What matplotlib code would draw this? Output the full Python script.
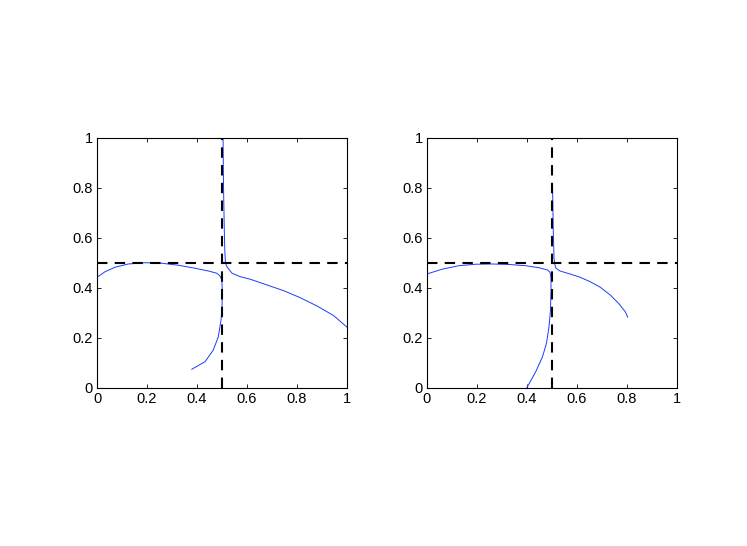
import matplotlib
matplotlib.use("Agg")
from matplotlib import pyplot as plt

plt.rcParams["font.family"] = ["Liberation Sans", "DejaVu Sans"]

# left panel, curve through the lower-left region
left_a_x = [0.0, 0.032, 0.072, 0.125, 0.192, 0.259, 0.325, 0.392, 0.445, 0.479, 0.492,
            0.499, 0.501, 0.500, 0.496, 0.485, 0.465, 0.432, 0.379]
left_a_y = [0.443, 0.465, 0.483, 0.496, 0.501, 0.499, 0.491, 0.479, 0.468, 0.459, 0.448,
            0.432, 0.392, 0.325, 0.272, 0.205, 0.152, 0.105, 0.075]
# left panel, curve through the upper-right region
left_b_x = [0.504, 0.506, 0.509, 0.511, 0.513, 0.517, 0.524, 0.54, 0.573, 0.613, 0.68,
            0.747, 0.813, 0.88, 0.947, 1.0]
left_b_y = [1.0, 0.80, 0.632, 0.55, 0.51, 0.49, 0.479, 0.459, 0.445, 0.435, 0.412,
            0.389, 0.361, 0.328, 0.289, 0.243]

# right panel
right_a_x = [0.0, 0.060, 0.127, 0.194, 0.261, 0.328, 0.395, 0.448, 0.482, 0.492, 0.496,
             0.496, 0.494, 0.488, 0.478, 0.462, 0.435, 0.399]
right_a_y = [0.456, 0.475, 0.489, 0.495, 0.496, 0.494, 0.489, 0.481, 0.472, 0.463, 0.440,
             0.392, 0.312, 0.245, 0.179, 0.125, 0.065, 0.0]
right_b_x = [0.502, 0.505, 0.507, 0.508, 0.511, 0.516, 0.532, 0.572, 0.612, 0.653,
             0.693, 0.733, 0.766, 0.793, 0.803]
right_b_y = [0.813, 0.632, 0.56, 0.52, 0.495, 0.479, 0.468, 0.456, 0.443, 0.425,
             0.403, 0.372, 0.339, 0.305, 0.283]

ticks = [0, 0.2, 0.4, 0.6, 0.8, 1]
tick_labels = ["0", "0.2", "0.4", "0.6", "0.8", "1"]

fig = plt.figure(figsize=(7.47, 5.46), dpi=100)
ax1 = fig.add_axes([0.1299, 0.2894, 0.3347, 0.4579])
ax2 = fig.add_axes([0.5716, 0.2894, 0.3347, 0.4579])

panels = [
    (ax1, left_a_x, left_a_y, left_b_x, left_b_y),
    (ax2, right_a_x, right_a_y, right_b_x, right_b_y),
]

for ax, ax_x, ax_y, bx, by in panels:
    ax.plot(ax_x, ax_y, color="#1a3cff", lw=0.7)
    ax.plot(bx, by, color="#1a3cff", lw=0.7)
    ax.axvline(0.5, color="black", lw=1.5, ls=(0, (5, 3.5)))
    ax.axhline(0.5, color="black", lw=1.5, ls=(0, (5, 3.5)))
    ax.set_xlim(0, 1)
    ax.set_ylim(0, 1)
    ax.set_xticks(ticks)
    ax.set_xticklabels(tick_labels)
    ax.set_yticks(ticks)
    ax.set_yticklabels(tick_labels)
    ax.tick_params(direction="in", length=3, width=0.6, top=True, right=True,
                   labelsize=10.5, pad=3)
    for s in ax.spines.values():
        s.set_linewidth(0.8)

fig.savefig("out.png", dpi=100)
